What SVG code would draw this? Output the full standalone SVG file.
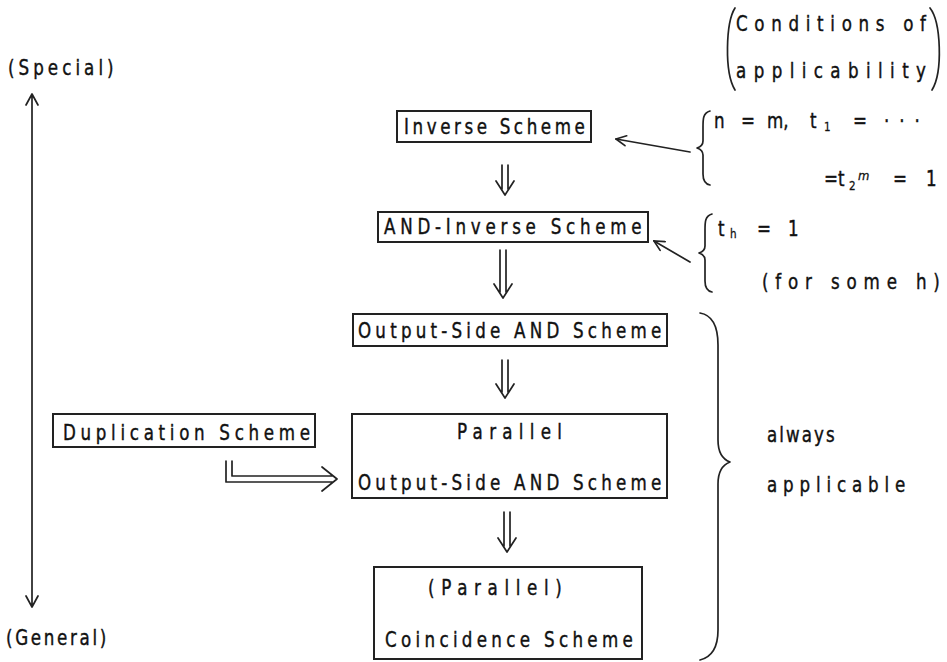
<svg xmlns="http://www.w3.org/2000/svg" width="947" height="662" viewBox="0 0 947 662">
<defs>
<style>
.t{font-family:"DejaVu Sans","Liberation Sans",sans-serif;font-size:22px;fill:#111;stroke:#111;stroke-width:0.45;}
.s{font-size:13px;stroke-width:0.3;}
.box{fill:#fff;stroke:#222;stroke-width:2;}
.ln{fill:none;stroke:#222;stroke-width:1.7;stroke-linecap:round;stroke-linejoin:round;}
</style>
<marker id="ah" viewBox="0 0 12 12" refX="11" refY="6" markerWidth="12" markerHeight="12" markerUnits="userSpaceOnUse" orient="auto">
<path d="M1,1 L11,6 L1,11" fill="none" stroke="#222" stroke-width="1.7" stroke-linecap="round"/>
</marker>
</defs>
<rect width="947" height="662" fill="#fff"/>

<g id="axis">
<text class="t" transform="translate(8,75) scale(0.76,1)" textLength="139" lengthAdjust="spacing">(Special)</text>
<text class="t" transform="translate(6,645) scale(0.76,1)" textLength="132" lengthAdjust="spacing">(General)</text>
</g>

<g id="connectors">
<path class="ln" d="M32,94 V607 M26,105 L32,94 L38,105 M26,596 L32,607 L38,596"/>
<path class="ln" d="M502,165 V189 M508,165 V189 M496,181 L505,195 L514,181"/>
<path class="ln" d="M500,250 V292 M506,250 V292 M494,284 L503,298 L512,284"/>
<path class="ln" d="M502,360 V392 M508,360 V392 M496,384 L505,398 L514,384"/>
<path class="ln" d="M504,512 V546 M510,512 V546 M498,538 L507,552 L516,538"/>
<path class="ln" d="M226,461 V482 H333 M232,461 V476 H333 M322,467 L337,479 L322,491"/>
<path class="ln" d="M690,152 L616,139" marker-end="url(#ah)"/>
<path class="ln" d="M690,262 L654,241" marker-end="url(#ah)"/>
</g>

<g id="inverse">
<rect class="box" x="397" y="111" width="194" height="31"/>
<text class="t" transform="translate(404,134) scale(0.76,1)" textLength="238" lengthAdjust="spacing">Inverse Scheme</text>
</g>

<g id="and-inverse">
<rect class="box" x="378" y="212" width="270" height="30"/>
<text class="t" transform="translate(384,234) scale(0.76,1)" textLength="339" lengthAdjust="spacing">AND-Inverse Scheme</text>
</g>

<g id="output-side">
<rect class="box" x="353" y="314" width="314" height="32"/>
<text class="t" transform="translate(358,338) scale(0.76,1)" textLength="399" lengthAdjust="spacing">Output-Side AND Scheme</text>
</g>

<g id="parallel">
<rect class="box" x="352" y="414" width="315" height="84"/>
<text class="t" transform="translate(457,439) scale(0.76,1)" textLength="138" lengthAdjust="spacing">Parallel</text>
<text class="t" transform="translate(358,490) scale(0.76,1)" textLength="399" lengthAdjust="spacing">Output-Side AND Scheme</text>
</g>

<g id="coincidence">
<rect class="box" x="374" y="567" width="268" height="92"/>
<text class="t" transform="translate(428,595) scale(0.76,1)" textLength="176" lengthAdjust="spacing">(Parallel)</text>
<text class="t" transform="translate(385,647) scale(0.76,1)" textLength="326" lengthAdjust="spacing">Coincidence Scheme</text>
</g>

<g id="duplication">
<rect class="box" x="53" y="414" width="262" height="33"/>
<text class="t" transform="translate(63,440) scale(0.76,1)" textLength="325" lengthAdjust="spacing">Duplication Scheme</text>
</g>

<g id="conditions">
<path class="ln" d="M735,8 C726,22 724,72 735,90"/>
<path class="ln" d="M930,8 C941,22 943,72 932,90"/>
<text class="t" transform="translate(736,31) scale(0.76,1)" textLength="250" lengthAdjust="spacing">Conditions of</text>
<text class="t" transform="translate(736,78) scale(0.76,1)" textLength="250" lengthAdjust="spacing">applicability</text>
</g>

<g id="cond-inverse">
<path class="ln" d="M710,111 C703,113 703,119 703,127 V141 C703,145 700,147 697,148 C700,149 703,151 703,155 V174 C703,181 705,184 710,185"/>
<text class="t" transform="translate(714,128) scale(0.76,1)">n</text>
<text class="t" transform="translate(741,128) scale(0.76,1)">=</text>
<text class="t" transform="translate(767,128) scale(0.76,1)">m,</text>
<text class="t" transform="translate(810,128) scale(0.76,1)">t</text>
<text class="t s" transform="translate(824,131) scale(0.8,1)">1</text>
<text class="t" transform="translate(853,128) scale(0.76,1)">=</text>
<text class="t" transform="translate(884,128) scale(0.76,1)" textLength="47" lengthAdjust="spacing">···</text>
<text class="t" transform="translate(824,186) scale(0.76,1)">=</text>
<text class="t" transform="translate(838,186) scale(0.76,1)">t</text>
<text class="t s" transform="translate(849,190) scale(0.8,1)">2</text>
<text class="t s" transform="translate(858,180) scale(0.9,1)" font-style="italic">m</text>
<text class="t" transform="translate(893,186) scale(0.76,1)">=</text>
<text class="t" transform="translate(926,186) scale(0.76,1)">1</text>
</g>

<g id="cond-and">
<path class="ln" d="M712,214 C705,216 705,222 705,230 V246 C705,250 702,252 699,253 C702,254 705,256 705,260 V281 C705,288 707,291 712,292"/>
<text class="t" transform="translate(718,236) scale(0.76,1)">t</text>
<text class="t s" transform="translate(730,238) scale(0.8,1)">h</text>
<text class="t" transform="translate(757,236) scale(0.76,1)">=</text>
<text class="t" transform="translate(788,236) scale(0.76,1)">1</text>
<text class="t" transform="translate(762,289) scale(0.76,1)" textLength="234" lengthAdjust="spacing">(for some h)</text>
</g>

<g id="always">
<path class="ln" d="M700,313 C712,315 718,325 718,345 V440 C718,452 722,459 730,462 C722,465 718,472 718,484 V630 C718,648 712,657 700,660"/>
<text class="t" transform="translate(767,442) scale(0.76,1)" textLength="89" lengthAdjust="spacing">always</text>
<text class="t" transform="translate(767,492) scale(0.76,1)" textLength="182" lengthAdjust="spacing">applicable</text>
</g>
</svg>
